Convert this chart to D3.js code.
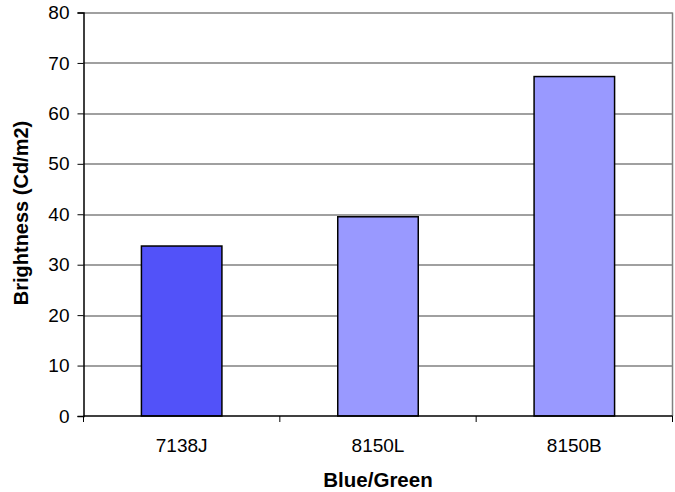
<!DOCTYPE html>
<html>
<head>
<meta charset="utf-8">
<script src="https://cdn.jsdelivr.net/npm/d3@7"></script>
<style>
  html, body { margin: 0; padding: 0; background: #fff; }
  svg { display: block; font-family: "Liberation Sans", Arial, sans-serif; }
</style>
</head>
<body>
<svg id="chart" width="675" height="492"></svg>
<script>
// Brightness per blue/green sample
const categories = ["7138J", "8150L", "8150B"];
const brightness = [33.7, 39.5, 67.3];
const yTicks = [0, 10, 20, 30, 40, 50, 60, 70, 80];
const xTitle = "Blue/Green";
const yTitle = "Brightness (Cd/m2)";

const svg = d3.select("#chart");
const margin = { left: 83.5, right: 2.5, top: 12.5, bottom: 76 };
const W = 675, H = 492;
const plotW = W - margin.left - margin.right;
const plotH = H - margin.top - margin.bottom;

const x = d3.scaleBand().domain(categories).range([0, plotW]).paddingInner(0.59).paddingOuter(0.295);
const xCat = d3.scaleBand().domain(categories).range([0, plotW]);
const y = d3.scaleLinear().domain([0, 80]).range([plotH, 0]);

// fine dotted fill for the first bar
const defs = svg.append("defs");
const pat = defs.append("pattern").attr("id", "dots")
  .attr("width", 2).attr("height", 2).attr("patternUnits", "userSpaceOnUse");
pat.append("rect").attr("width", 2).attr("height", 2).attr("fill", "#5757ff");
pat.append("rect").attr("width", 1).attr("height", 1).attr("fill", "#4c4cf2");
pat.append("rect").attr("x", 1).attr("y", 1).attr("width", 1).attr("height", 1).attr("fill", "#4c4cf2");

const g = svg.append("g").attr("transform", `translate(${margin.left},${margin.top})`);

// gridlines
g.append("g").selectAll("line").data(yTicks.filter(d => d > 0)).join("line")
  .attr("x1", 0).attr("x2", plotW)
  .attr("y1", d => Math.round(y(d)) + 0.5).attr("y2", d => Math.round(y(d)) + 0.5)
  .attr("stroke", "#808080").attr("stroke-width", 1.5);

// right border of plot area
g.append("line").attr("x1", plotW).attr("x2", plotW).attr("y1", 0).attr("y2", plotH)
  .attr("stroke", "#808080").attr("stroke-width", 1.5);

// bars
g.append("g").selectAll("rect").data(categories).join("rect")
  .attr("x", d => x(d))
  .attr("width", x.bandwidth())
  .attr("y", (d, i) => y(brightness[i]))
  .attr("height", (d, i) => plotH - y(brightness[i]))
  .attr("fill", (d, i) => i === 0 ? "url(#dots)" : "#9999ff")
  .attr("stroke", "#000").attr("stroke-width", 1.5);

// y axis
const yAxis = g.append("g")
  .call(d3.axisLeft(y).tickValues(yTicks).tickSize(6).tickPadding(8).tickFormat(d3.format("d")));
yAxis.select(".domain").attr("stroke", "#000").attr("stroke-width", 1.5);
yAxis.selectAll(".tick line").attr("stroke", "#000");
yAxis.selectAll("text").attr("font-size", 19).attr("fill", "#000")
  .attr("font-family", "Liberation Sans, Arial, sans-serif");

// x axis: ticks between categories
const xAxisG = g.append("g").attr("transform", `translate(0,${plotH})`);
xAxisG.append("line").attr("x1", 0).attr("x2", plotW).attr("y1", 0).attr("y2", 0)
  .attr("stroke", "#000").attr("stroke-width", 1.5);
const bounds = [0].concat(categories.map(c => xCat(c) + xCat.bandwidth()));
xAxisG.selectAll("line.tk").data(bounds).join("line").attr("class", "tk")
  .attr("x1", d => d).attr("x2", d => d).attr("y1", 0).attr("y2", 6)
  .attr("stroke", "#000");
xAxisG.selectAll("text").data(categories).join("text")
  .attr("x", d => xCat(d) + xCat.bandwidth() / 2)
  .attr("y", 35.5)
  .attr("text-anchor", "middle")
  .attr("font-size", 19)
  .text(d => d);

// axis titles
svg.append("text")
  .attr("x", margin.left + plotW / 2).attr("y", 487)
  .attr("text-anchor", "middle").attr("font-weight", "bold").attr("font-size", 20.5)
  .text(xTitle);
svg.append("text")
  .attr("transform", `translate(28,213) rotate(-90)`)
  .attr("text-anchor", "middle").attr("font-weight", "bold").attr("font-size", 20)
  .text(yTitle);
</script>
</body>
</html>
